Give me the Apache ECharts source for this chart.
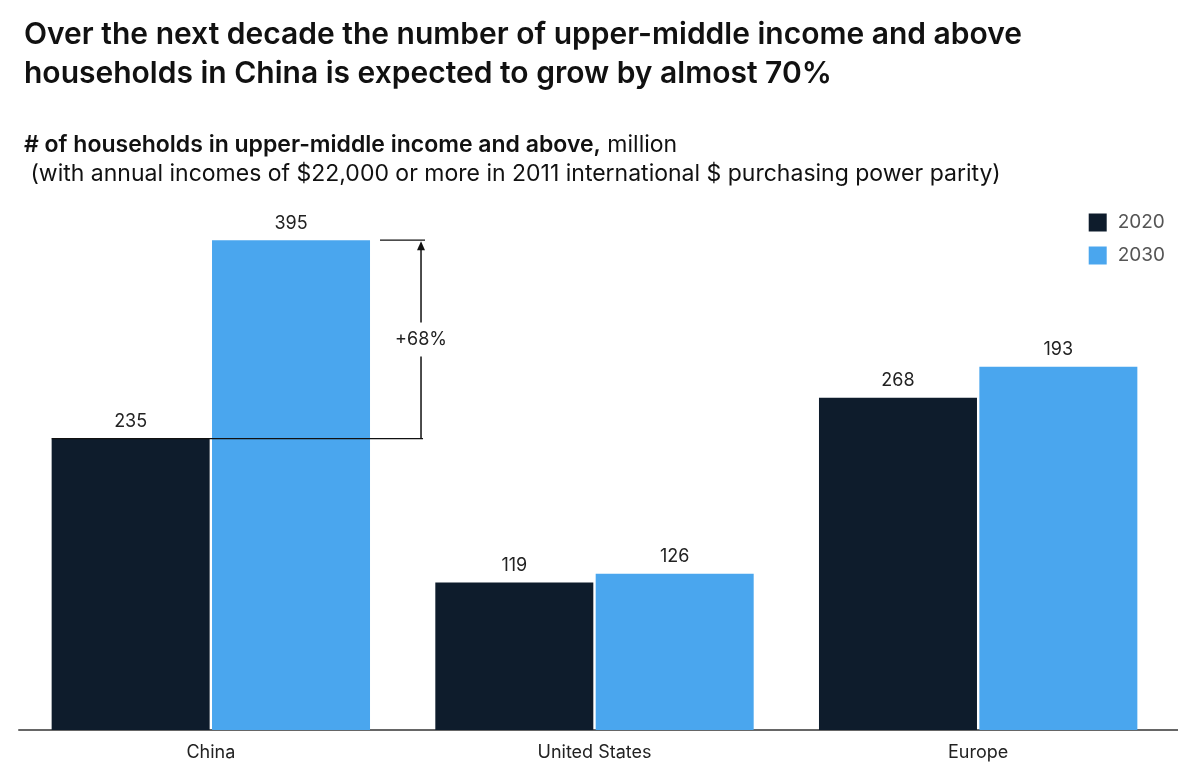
<!DOCTYPE html>
<html><head><meta charset="utf-8">
<script src="https://cdn.jsdelivr.net/npm/echarts@6/dist/echarts.min.js"></script>
<style>html,body{margin:0;padding:0;background:#fff}#c{width:1200px;height:782px}</style>
</head><body><div id="c"></div>
<script>
const categories = ['China', 'United States', 'Europe'];
const values2020 = [235, 119, 268];
const values2030 = [395, 126, 293];
const labels2020 = ['235', '119', '268'];
const labels2030 = ['395', '126', '193'];
const changeLabel = '+68%';

const FONT = 'Inter, "Liberation Sans", sans-serif';
const chart = echarts.init(document.getElementById('c'));
const option = {
  animation: false,
  backgroundColor: '#fff',
  title: [
    { text: 'Over the next decade the number of upper-middle income and above\nhouseholds in China is expected to grow by almost 70%',
      left: 19, top: 10, textStyle: { fontFamily: FONT, fontSize: 30, fontWeight: 600, color: '#111', lineHeight: 39 } },
    { text: '{b|# of households in upper-middle income and above,} million\n (with annual incomes of $22,000 or more in 2011 international $ purchasing power parity)',
      left: 19, top: 126, textStyle: { fontFamily: FONT, fontSize: 23, fontWeight: 400, color: '#111', lineHeight: 29,
        rich: { b: { fontFamily: FONT, fontSize: 23, fontWeight: 600, color: '#111' } } } }
  ],
  legend: {
    orient: 'vertical', right: 30, top: 208, itemWidth: 18, itemHeight: 18, itemGap: 14,
    icon: 'rect', textStyle: { fontFamily: FONT, fontSize: 19, color: '#555', padding: [0, 0, 0, 6] },
    data: ['2020', '2030']
  },
  grid: { left: 19, right: 30, top: 234, bottom: 52, containLabel: false },
  xAxis: {
    type: 'category', data: categories,
    axisLine: { lineStyle: { color: '#666', width: 2 } },
    axisTick: { show: false },
    axisLabel: { fontFamily: FONT, fontSize: 18, color: '#222', margin: 14 }
  },
  yAxis: { type: 'value', min: 0, max: 400, show: false, splitLine: { show: false } },
  series: [
    { name: '2020', type: 'bar', data: values2020, barWidth: 158, barGap: '1.5%',
      itemStyle: { color: '#0E1C2C' },
      label: { show: true, position: 'top', distance: 8, fontFamily: FONT, fontSize: 18, color: '#222',
        formatter: p => labels2020[p.dataIndex] } },
    { name: '2030', type: 'bar', data: values2030, barWidth: 158,
      itemStyle: { color: '#4AA6EE' },
      label: { show: true, position: 'top', distance: 8, fontFamily: FONT, fontSize: 18, color: '#222',
        formatter: p => labels2030[p.dataIndex] } }
  ]
};
chart.setOption(option);

const gridRect = chart.getModel().getComponent('grid', 0).coordinateSystem.getRect();
const p0 = chart.convertToPixel({ seriesIndex: 0 }, [0, values2020[0]]);
const p1 = chart.convertToPixel({ seriesIndex: 1 }, [0, values2030[0]]);
const barLayout0 = chart.getModel().getSeriesByIndex(0).getData().getItemLayout(0);
const barLayout1 = chart.getModel().getSeriesByIndex(1).getData().getItemLayout(0);
const leftX = barLayout0.x;
const rightEdge = barLayout1.x + barLayout1.width;
const arrowX = rightEdge + 51;
const yLow = p0[1], yHigh = p1[1];
const midY = (yLow + yHigh) / 2;
chart.setOption({
  graphic: [
    { type: 'line', shape: { x1: gridRect.x + gridRect.width - 1, y1: gridRect.y + gridRect.height, x2: gridRect.x + gridRect.width + 8, y2: gridRect.y + gridRect.height }, style: { stroke: '#666', lineWidth: 2 }, z: 100 },
    { type: 'line', shape: { x1: leftX, y1: yLow, x2: arrowX + 2, y2: yLow }, style: { stroke: '#111', lineWidth: 1.3 }, z: 100 },
    { type: 'line', shape: { x1: rightEdge + 10, y1: yHigh, x2: arrowX + 4, y2: yHigh }, style: { stroke: '#111', lineWidth: 1.3 }, z: 100 },
    { type: 'line', shape: { x1: arrowX, y1: yLow, x2: arrowX, y2: midY + 17 }, style: { stroke: '#111', lineWidth: 1.5 }, z: 100 },
    { type: 'line', shape: { x1: arrowX, y1: midY - 17, x2: arrowX, y2: yHigh + 8 }, style: { stroke: '#111', lineWidth: 1.5 }, z: 100 },
    { type: 'polygon', shape: { points: [[arrowX - 4, yHigh + 10], [arrowX + 4, yHigh + 10], [arrowX, yHigh + 1]] }, style: { fill: '#111' }, z: 100 },
    { type: 'text', x: arrowX, y: midY, style: { text: changeLabel, fontFamily: FONT, fontSize: 18, fill: '#222', align: 'center', verticalAlign: 'middle' }, z: 100 }
  ]
});
</script></body></html>
